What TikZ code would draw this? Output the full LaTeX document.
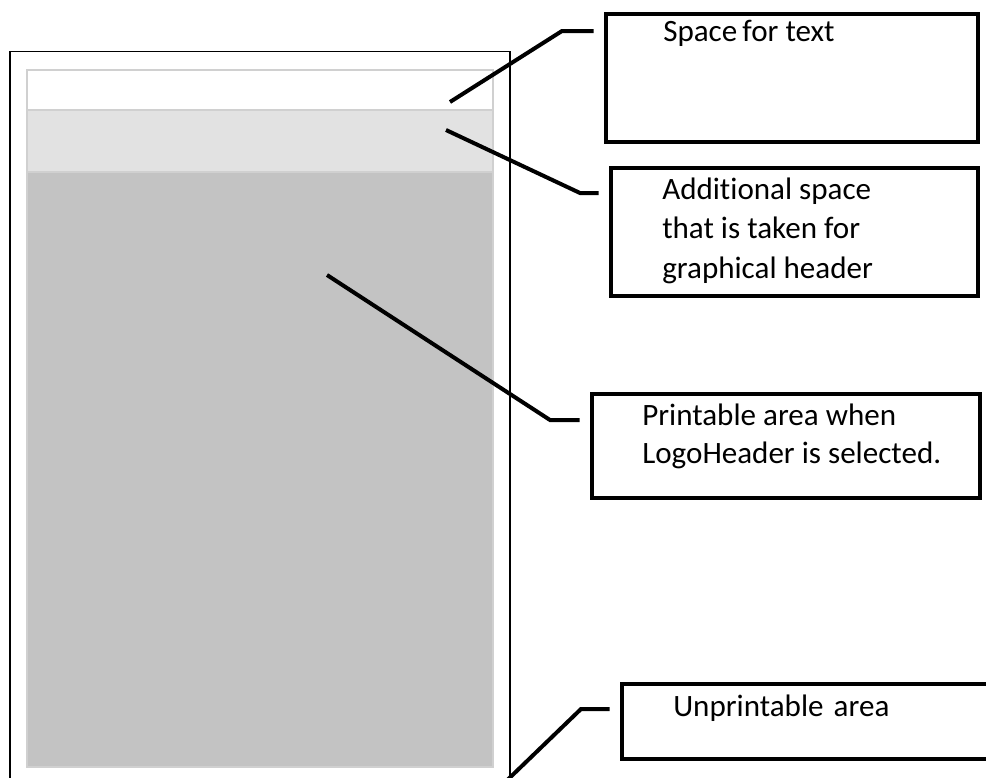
\documentclass[tikz,border=0pt]{standalone}
\usepackage{fontspec}
\setmainfont{Carlito}[Ligatures={NoCommon}]
\definecolor{lightfill}{HTML}{E2E2E2}
\definecolor{darkfill}{HTML}{C3C3C3}
\definecolor{edgegray}{HTML}{D0D0D0}
\tikzset{
  box/.style={draw=black, line width=3.6pt, rectangle, inner sep=0pt, fill=white},
  conn/.style={draw=black, line width=3pt, line join=miter, shorten >=7.5pt},
  lbl/.style={anchor=base west, inner sep=0pt, font=\fontsize{23.3}{29.6}\selectfont},
  strip/.style={draw=edgegray, line width=0.8pt},
  page/.style={draw=black, line width=1.1pt}
}
\begin{document}
\begin{tikzpicture}[x=0.75pt,y=-0.75pt]
\useasboundingbox (0,0) rectangle (986,778);
% page
\draw[page] (10,800) -- (10,51.5) -- (510,51.5) -- (510,800);
% strips
\draw[strip, fill=darkfill] (27,172) rectangle (493,767);
\draw[strip, fill=lightfill] (27,110) rectangle (493,172);
\draw[strip, fill=white] (27,70) rectangle (493,110);
% boxes
\node[box, minimum width={372*0.75pt}, minimum height={128*0.75pt}] (box1) at (792,78) {};
\node[box, minimum width={367*0.75pt}, minimum height={128*0.75pt}] (box2) at (794.5,232) {};
\node[box, minimum width={388*0.75pt}, minimum height={104*0.75pt}] (box3) at (786,446) {};
\node[box, minimum width={400*0.75pt}, minimum height={75*0.75pt}] (box4) at (822,721.5) {};
% texts
\node[lbl] (t1) at (663,41.7) {Space\hspace{-0.06em} for text};
\node[lbl] (t2a) at (662,199.3) {Additional space};
\node[lbl] (t2b) at (662,238.3) {that is taken for};
\node[lbl] (t2c) at (662,278.3) {graphical header};
\node[lbl] (t3a) at (642,425) {Printable area when};
\node[lbl] (t3b) at (642,463.3) {LogoHeader is selected.};
\node[lbl] (t4) at (673,716.7) {Unprintable\hspace{0.1em} area};
% connectors
\coordinate (c1) at (450,102);
\coordinate (k1) at (562,31);
\coordinate (c2) at (446,130);
\coordinate (k2) at (580,193);
\coordinate (c3) at (327,275);
\coordinate (k3) at (550,420);
\coordinate (c4) at (497,790);
\coordinate (k4) at (581,709);
\draw[conn] (c1) -- (k1) -- (k1 -| box1.west);
\draw[conn] (c2) -- (k2) -- (k2 -| box2.west);
\draw[conn] (c3) -- (k3) -- (k3 -| box3.west);
\draw[conn] (c4) -- (k4) -- (k4 -| box4.west);
\end{tikzpicture}
\end{document}
